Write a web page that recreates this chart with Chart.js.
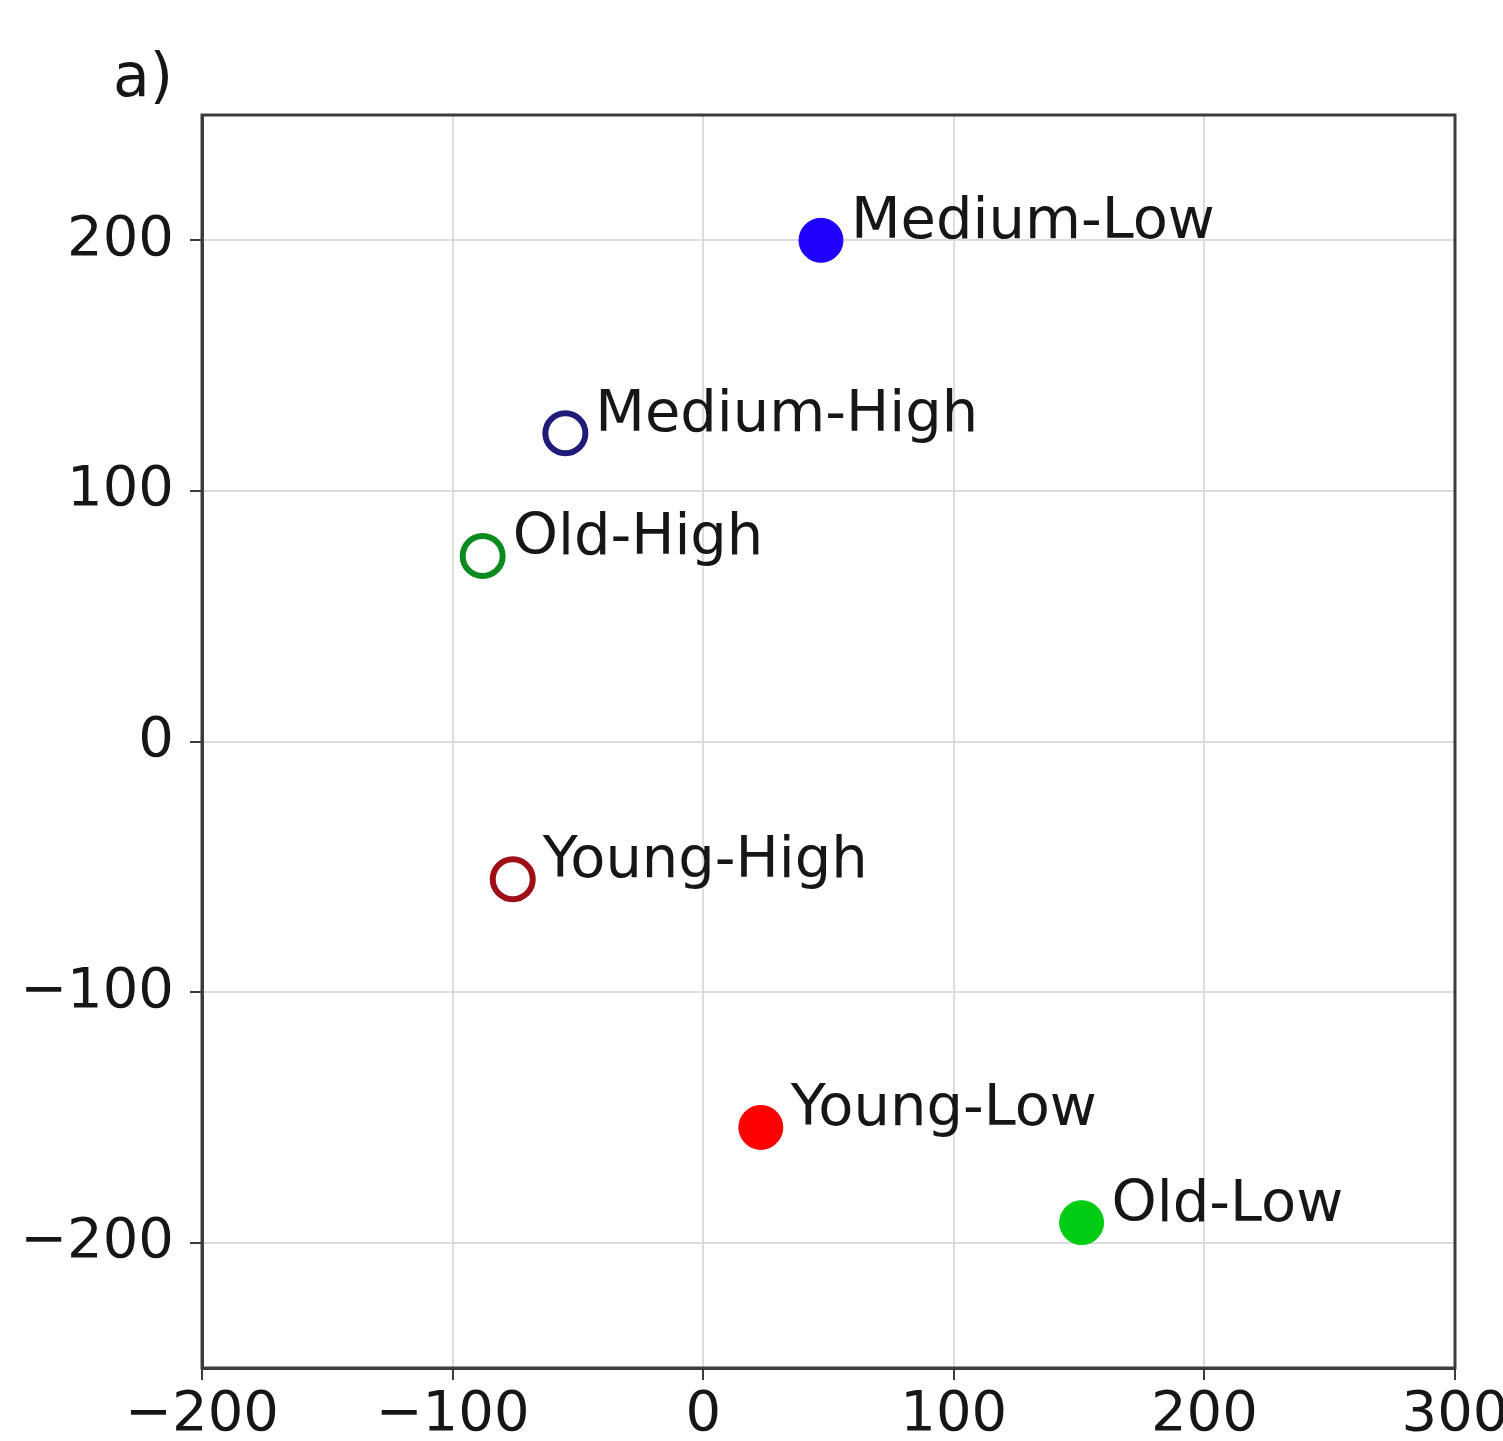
<!DOCTYPE html>
<html>
<head>
<meta charset="utf-8">
<script src="https://cdn.jsdelivr.net/npm/chart.js@4/dist/chart.umd.min.js"></script>
<style>
  html, body { margin: 0; padding: 0; background: #ffffff; }
  canvas { display: block; }
</style>
</head>
<body>
<canvas id="plot" width="1503" height="1441"></canvas>
<script>
// Group names and their 2-D coordinates
const groups  = ['Medium-Low', 'Medium-High', 'Old-High', 'Young-High', 'Young-Low', 'Old-Low'];
const xValues = [47, -55, -88, -76, 23, 151];
const yValues = [200, 123, 74, -55, -154, -192];
const filled  = [true, false, false, false, true, true];
const colors  = ['#2000ff', '#201a78', '#0b8a1f', '#9e0f17', '#ff0000', '#00cc14'];

// Axis ticks
const xTicks = [-200, -100, 0, 100, 200, 300];
const yTicks = [-200, -100, 0, 100, 200];
const panelLabel = 'a)';

const FONT = 'DejaVu Sans';
const TEXT = '#161616';
const FRAME = '#3c3c3c';

const fmt = v => String(v).replace('-', '\u2212');

const points = xValues.map((x, i) => ({ x, y: yValues[i] }));

// Frame around the plot area plus point annotations and the panel tag
const annotate = {
  id: 'annotate',
  afterDraw(chart) {
    const { ctx, chartArea: a, scales } = chart;
    ctx.save();
    ctx.strokeStyle = FRAME;
    ctx.lineWidth = 3;
    ctx.strokeRect(a.left, a.top, a.right - a.left, a.bottom - a.top);

    ctx.fillStyle = TEXT;
    ctx.font = `57.5px "${FONT}"`;
    ctx.textAlign = 'left';
    ctx.textBaseline = 'alphabetic';
    groups.forEach((g, i) => {
      const px = scales.x.getPixelForValue(xValues[i]);
      const py = scales.y.getPixelForValue(yValues[i]);
      ctx.fillText(g, px + 30, py - 2);
    });

    ctx.font = `60px "${FONT}"`;
    ctx.fillText(panelLabel, 113, 96);
    ctx.restore();
  }
};

new Chart(document.getElementById('plot'), {
  type: 'scatter',
  data: {
    datasets: [{
      data: points,
      pointRadius: filled.map(f => f ? 22 : 20),
      pointBorderWidth: filled.map(f => f ? 1 : 6),
      pointBackgroundColor: filled.map((f, i) => f ? colors[i] : 'rgba(255,255,255,0)'),
      pointBorderColor: colors,
      pointHoverRadius: filled.map(f => f ? 22 : 20)
    }]
  },
  options: {
    responsive: false,
    animation: false,
    devicePixelRatio: 1,
    layout: { padding: { top: 115, right: 48, left: 0, bottom: 0 } },
    plugins: { legend: { display: false }, tooltip: { enabled: false } },
    scales: {
      x: {
        type: 'linear',
        min: -200,
        max: 300,
        afterBuildTicks(scale) { scale.ticks = xTicks.map(v => ({ value: v })); },
        afterFit(scale) { scale.height = 73; scale.paddingLeft = 0; scale.paddingRight = 0; },
        grid: { color: '#dcdcdc', lineWidth: 2, tickLength: 12, tickColor: FRAME, tickWidth: 2 },
        border: { color: FRAME, width: 3 },
        ticks: {
          font: { family: FONT, size: 56 },
          color: TEXT,
          padding: 2,
          maxRotation: 0,
          autoSkip: false,
          callback: v => fmt(v)
        }
      },
      y: {
        type: 'linear',
        min: -250,
        max: 250,
        afterBuildTicks(scale) { scale.ticks = yTicks.map(v => ({ value: v })); },
        afterFit(scale) { scale.width = 202; scale.paddingTop = 0; scale.paddingBottom = 0; },
        grid: { color: '#dcdcdc', lineWidth: 2, tickLength: 12, tickColor: FRAME, tickWidth: 2 },
        border: { color: FRAME, width: 3 },
        ticks: {
          font: { family: FONT, size: 56 },
          color: TEXT,
          padding: 16,
          autoSkip: false,
          callback: v => fmt(v)
        }
      }
    }
  },
  plugins: [annotate]
});
</script>
</body>
</html>
